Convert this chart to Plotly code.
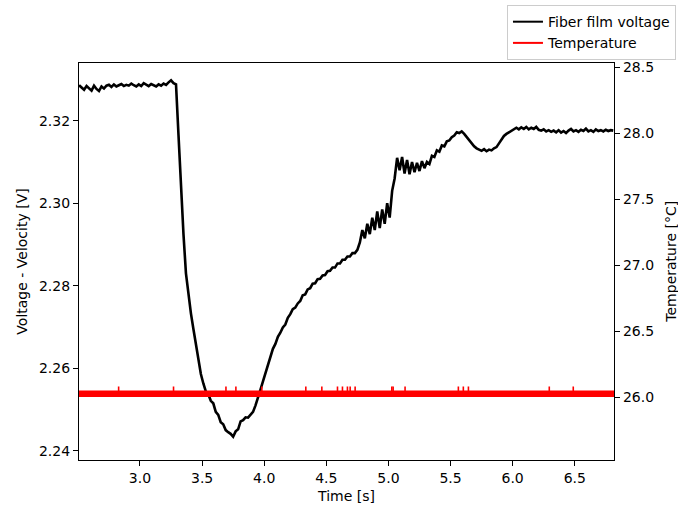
import numpy as np
import plotly.graph_objects as go

# Fiber film anemometer recording, sampled every 0.02 s starting at 2.51 s
t_start = 2.51
t_step = 0.02
voltage = [
    2.3286, 2.3280, 2.3275, 2.3284, 2.3279, 2.3273, 2.3285, 2.3277, 2.3272, 2.3283,
    2.3278, 2.3285, 2.3287, 2.3282, 2.3288, 2.3283, 2.3286, 2.3289, 2.3284, 2.3287,
    2.3285, 2.3290, 2.3286, 2.3283, 2.3288, 2.3284, 2.3291, 2.3287, 2.3284, 2.3289,
    2.3286, 2.3283, 2.3288, 2.3285, 2.3290, 2.3287, 2.3293, 2.3298, 2.3291, 2.3288,
    2.3165, 2.3040, 2.2925, 2.2830, 2.2775, 2.2733, 2.2695, 2.2655, 2.2620, 2.2586,
    2.2563, 2.2544, 2.2537, 2.2521, 2.2515, 2.2494, 2.2487, 2.2469, 2.2464, 2.2450,
    2.2445, 2.2441, 2.2434, 2.2447, 2.2452, 2.2471, 2.2474, 2.2481, 2.2480, 2.2488,
    2.2494, 2.2510, 2.2527, 2.2548, 2.2568, 2.2588, 2.2608, 2.2627, 2.2647, 2.2659,
    2.2676, 2.2686, 2.2699, 2.2706, 2.2722, 2.2731, 2.2743, 2.2747, 2.2757, 2.2763,
    2.2777, 2.2779, 2.2791, 2.2794, 2.2805, 2.2806, 2.2816, 2.2817, 2.2825, 2.2826,
    2.2835, 2.2836, 2.2844, 2.2844, 2.2854, 2.2854, 2.2863, 2.2863, 2.2871, 2.2871,
    2.2879, 2.2879, 2.2887, 2.2905, 2.2935, 2.2915, 2.2950, 2.2925, 2.2965, 2.2935,
    2.2980, 2.2940, 2.2985, 2.2950, 2.3000, 2.2965, 2.3030, 2.3060, 2.3110, 2.3080,
    2.3112, 2.3072, 2.3105, 2.3070, 2.3100, 2.3075, 2.3098, 2.3078, 2.3102, 2.3085,
    2.3100, 2.3095, 2.3115, 2.3112, 2.3128, 2.3125, 2.3140, 2.3138, 2.3150, 2.3152,
    2.3160, 2.3164, 2.3172, 2.3170, 2.3174, 2.3168, 2.3160, 2.3152, 2.3145, 2.3138,
    2.3133, 2.3130, 2.3127, 2.3131, 2.3126, 2.3130, 2.3128, 2.3133, 2.3136, 2.3145,
    2.3155, 2.3163, 2.3168, 2.3172, 2.3176, 2.3178, 2.3183, 2.3179, 2.3184, 2.3180,
    2.3185, 2.3179, 2.3183, 2.3180, 2.3185, 2.3178, 2.3176, 2.3179, 2.3174, 2.3177,
    2.3173, 2.3176, 2.3172, 2.3177, 2.3171, 2.3175, 2.3170, 2.3176, 2.3180, 2.3174,
    2.3177, 2.3173, 2.3178, 2.3175, 2.3181, 2.3174, 2.3177, 2.3173, 2.3179, 2.3175,
    2.3177, 2.3174, 2.3178, 2.3175, 2.3177, 2.3176,
]
time = t_start + t_step * np.arange(len(voltage))

# Thermocouple reading: steady baseline with short single-sample peaks
temp_time = [2.509, 6.816]
temp_level = [26.027, 26.027]
peak_times = [2.828, 3.270, 3.692, 3.772, 3.981, 4.335, 4.464, 4.590, 4.630,
              4.670, 4.692, 4.732, 5.027, 5.038, 5.134, 5.563, 5.603, 5.644,
              6.295, 6.488]
peak_values = [26.082] * len(peak_times)

peak_x, peak_y = [], []
for pt, pv in zip(peak_times, peak_values):
    peak_x += [pt, pt, None]
    peak_y += [temp_level[0], pv, None]

FONT = "DejaVu Sans"

fig = go.Figure()
fig.add_trace(go.Scatter(
    x=time, y=voltage, mode="lines", showlegend=False,
    line=dict(color="black", width=2.6), yaxis="y",
))
fig.add_trace(go.Scatter(
    x=temp_time, y=temp_level, mode="lines", showlegend=False,
    line=dict(color="red", width=6.5), yaxis="y2",
))
fig.add_trace(go.Scatter(
    x=peak_x, y=peak_y, mode="lines", showlegend=False,
    line=dict(color="red", width=1.6), yaxis="y2",
))
# legend keys drawn with the plain line weight
fig.add_trace(go.Scatter(
    x=[None], y=[None], mode="lines", name="Fiber film voltage",
    line=dict(color="black", width=2), yaxis="y",
))
fig.add_trace(go.Scatter(
    x=[None], y=[None], mode="lines", name="Temperature",
    line=dict(color="red", width=2), yaxis="y2",
))

axis_common = dict(
    showgrid=False, zeroline=False, showline=True, linecolor="black",
    linewidth=1.2, ticks="outside", ticklen=5, tickwidth=1.2,
    tickcolor="black", tickfont=dict(family=FONT, size=14, color="black"),
)

fig.update_layout(
    width=678, height=509,
    margin=dict(l=79, r=64, t=63, b=49, autoexpand=False),
    plot_bgcolor="white", paper_bgcolor="white",
    font=dict(family=FONT, size=14, color="black"),
    xaxis=dict(
        range=[2.509, 6.816], tickvals=[3.0, 3.5, 4.0, 4.5, 5.0, 5.5, 6.0, 6.5],
        ticktext=["3.0", "3.5", "4.0", "4.5", "5.0", "5.5", "6.0", "6.5"],
        mirror=True,
        title=dict(text="Time [s]", standoff=6,
                   font=dict(family=FONT, size=14, color="black")),
        **axis_common,
    ),
    yaxis=dict(
        range=[2.23775, 2.33399],
        tickvals=[2.24, 2.26, 2.28, 2.30, 2.32],
        ticktext=["2.24", "2.26", "2.28", "2.30", "2.32"],
        title=dict(text="Voltage - Velocity [V]", standoff=8,
                   font=dict(family=FONT, size=14, color="black")),
        **axis_common,
    ),
    yaxis2=dict(
        range=[25.525, 28.533], overlaying="y", side="right",
        tickvals=[26.0, 26.5, 27.0, 27.5, 28.0, 28.5],
        ticktext=["26.0", "26.5", "27.0", "27.5", "28.0", "28.5"],
        **axis_common,
    ),
    legend=dict(
        xref="container", yref="container", x=0.997, y=0.99,
        xanchor="right", yanchor="top",
        bgcolor="white", bordercolor="#cccccc", borderwidth=1,
        font=dict(family=FONT, size=14, color="black"),
        tracegroupgap=0, itemwidth=30,
    ),
    annotations=[dict(
        text="Temperature [°C]", xref="paper", yref="paper",
        x=1.105, y=0.5, xanchor="center", yanchor="middle",
        textangle=-90, showarrow=False,
        font=dict(family=FONT, size=14, color="black"),
    )],
)

fig.write_html("out.html")
